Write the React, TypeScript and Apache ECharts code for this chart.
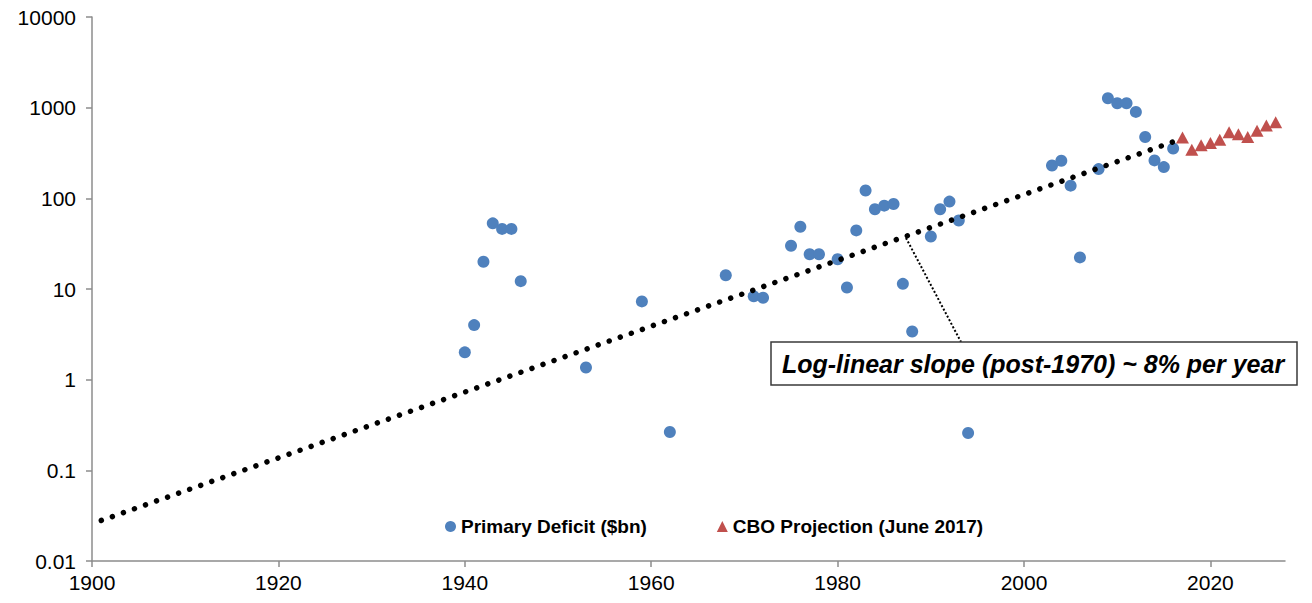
import React, { useEffect, useRef } from "react";
import * as echarts from "echarts";

const deficitYears = [1940, 1941, 1942, 1943, 1944, 1945, 1946, 1953, 1959, 1962, 1968, 1971, 1972, 1975, 1976, 1977, 1978, 1980, 1981, 1982, 1983, 1984, 1985, 1986, 1987, 1988, 1990, 1991, 1992, 1993, 1994, 2003, 2004, 2005, 2006, 2008, 2009, 2010, 2011, 2012, 2013, 2014, 2015, 2016];
const deficitValues = [2.0, 4.0, 20, 53, 46, 46, 12.2, 1.36, 7.3, 0.265, 14.2, 8.3, 8.0, 30, 48.6, 24.2, 24.2, 21.3, 10.4, 44.3, 122, 75.7, 83, 86.7, 11.4, 3.4, 38, 75.7, 92, 57, 0.258, 230, 260, 138, 22.3, 210, 1271, 1119, 1119, 898, 475, 262, 221, 355];

const cboYears = [2017, 2018, 2019, 2020, 2021, 2022, 2023, 2024, 2025, 2026, 2027];
const cboValues = [470, 344, 384, 407, 443, 534, 508, 475, 557, 634, 689];

const trendYears = [1901, 2016];
const trendValues = [0.028, 420];

const xTicks = [1900, 1920, 1940, 1960, 1980, 2000, 2020];
const yTickLabels = ["0.01", "0.1", "1", "10", "100", "1000", "10000"];

const seriesNames = ["Primary Deficit ($bn)", "CBO Projection (June 2017)"];
const annotationText = "Log-linear slope (post-1970) ~ 8% per year";

const FONT = "'Liberation Sans', Arial, sans-serif";

export default function App() {
  const ref = useRef<HTMLDivElement>(null);
  useEffect(() => {
    if (!ref.current) return;
    const chart = echarts.init(ref.current, null, { renderer: "svg" });
    chart.setOption({
      animation: false,
      backgroundColor: "#ffffff",
      grid: { left: 92, right: 27, top: 17, bottom: 42, containLabel: false },
      legend: {
        left: 440,
        top: 512,
        itemGap: 70,
        itemWidth: 11,
        itemHeight: 11,
        textStyle: { fontFamily: FONT, fontSize: 19, fontWeight: "bold", color: "#000" },
        data: seriesNames,
      },
      xAxis: {
        type: "value",
        min: 1900,
        max: 2028,
        interval: 20,
        splitLine: { show: false },
        axisLine: { lineStyle: { color: "#8c8c8c", width: 1.5 } },
        axisTick: { customValues: xTicks, length: 6, lineStyle: { color: "#8c8c8c", width: 1.5 } },
        axisLabel: {
          customValues: xTicks,
          margin: 11,
          fontFamily: FONT,
          fontSize: 21,
          color: "#000",
          formatter: (v: number) => String(v),
        },
      },
      yAxis: {
        type: "log",
        logBase: 10,
        min: 0.01,
        max: 10000,
        splitLine: { show: false },
        axisLine: { show: true, lineStyle: { color: "#8c8c8c", width: 1.5 } },
        axisTick: { show: true, length: 6, lineStyle: { color: "#8c8c8c", width: 1.5 } },
        axisLabel: {
          margin: 16,
          fontFamily: FONT,
          fontSize: 21,
          color: "#000",
          formatter: (v: number) => {
            const idx = Math.round(Math.log10(v)) + 2;
            return yTickLabels[idx] ?? String(v);
          },
        },
      },
      series: [
        {
          name: "trend",
          type: "line",
          data: trendYears.map((y, i) => [y, trendValues[i]]),
          showSymbol: false,
          symbol: "none",
          lineStyle: { color: "#000", width: 5.5, type: [0.01, 11.7], cap: "round" },
          z: 3,
          silent: true,
        },
        {
          name: seriesNames[0],
          type: "scatter",
          data: deficitYears.map((y, i) => [y, deficitValues[i]]),
          symbol: "circle",
          symbolSize: 12,
          itemStyle: { color: "#4f81bd", opacity: 1 },
          z: 2,
        },
        {
          name: seriesNames[1],
          type: "scatter",
          data: cboYears.map((y, i) => [y, cboValues[i]]),
          symbol: "triangle",
          symbolSize: [13, 12],
          itemStyle: { color: "#c0504d", opacity: 1 },
          z: 2,
        },
      ],
      graphic: [
        {
          type: "line",
          shape: { x1: 906, y1: 238, x2: 961, y2: 342 },
          style: { stroke: "#000", lineWidth: 2, lineDash: [2, 2] },
          z: 10,
        },
        {
          type: "rect",
          shape: { x: 771, y: 342, width: 526, height: 43 },
          style: { fill: "#fff", stroke: "#3a3a3a", lineWidth: 1.5 },
          z: 10,
        },
        {
          type: "text",
          x: 1033,
          y: 364,
          style: {
            text: annotationText,
            fontFamily: FONT,
            fontSize: 25,
            fontWeight: "bold",
            fontStyle: "italic",
            fill: "#000",
            align: "center",
            verticalAlign: "middle",
          },
          z: 11,
        },
      ],
    });
    return () => chart.dispose();
  }, []);
  return (
    <div
      ref={ref}
      style={{ position: "fixed", left: 0, top: 0, width: 1312, height: 603 }}
    />
  );
}
